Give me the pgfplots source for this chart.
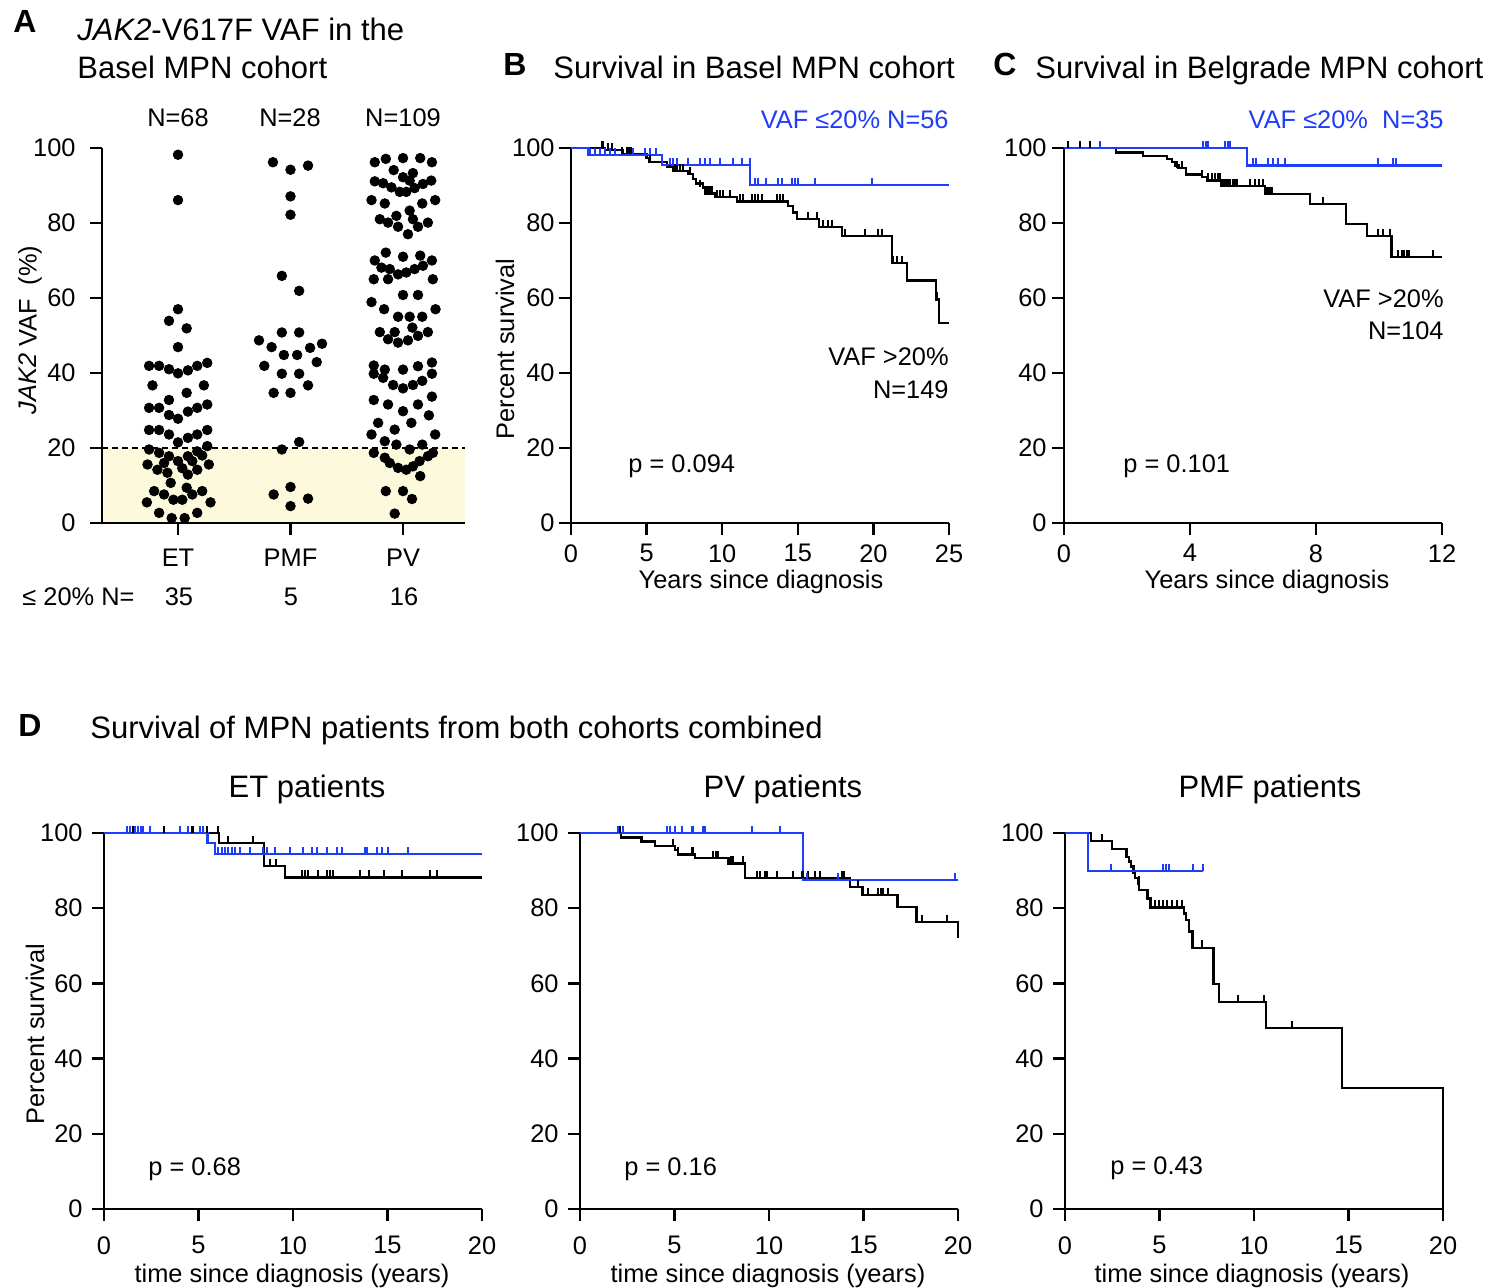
\documentclass[border=0pt]{standalone}
\usepackage{fontspec}
\setmainfont{Liberation Sans}
\usepackage{pgfplots}
\pgfplotsset{compat=1.18}
\definecolor{kmblue}{RGB}{30,60,250}
\definecolor{vafyellow}{RGB}{253,249,221}
\pgfdeclareplotmark{cens}{\pgfpathmoveto{\pgfpointorigin}\pgfpathlineto{\pgfpoint{0pt}{3.6pt}}\pgfusepathqstroke}
\newcommand\lab{\fontsize{12.7}{14}\selectfont}
\newcommand\ttl{\fontsize{15.5}{18}\selectfont}
\pgfplotsset{
  kmaxis/.style={
    scale only axis, width=189pt, height=187.5pt,
    axis lines=left, axis line style={-, line width=1.2pt},
    tick align=outside, major tick length=6pt,
    tick style={black, line width=1.2pt},
    ymin=0, ymax=100, ytick={0,20,...,100},
    clip=false, anchor=south west,
    tick label style={font=\lab},
    /pgf/number format/assume math mode=true,
  },
  blk/.style={const plot, black, line width=1.15pt},
  blu/.style={const plot, kmblue, line width=1.15pt},
  cblk/.style={only marks, mark=cens, black, mark options={line width=1pt}},
  cblu/.style={only marks, mark=cens, kmblue, mark options={line width=1pt}},
}
\begin{document}
\begin{tikzpicture}[x=0.5pt,y=0.5pt, every node/.style={inner sep=0pt}]
\useasboundingbox (0,0) rectangle (1502,1288);

% ---------------- Panel A
\begin{axis}[kmaxis, at={(51pt,382.5pt)}, width=181.5pt, xmin=0.3244, xmax=3.551,
  xtick={1,2,3}, xticklabels={ET,PMF,PV}, axis on top,
  yticklabel style={xshift=-7pt}, xticklabel style={yshift=-7pt}]
\addplot[draw=none, fill=vafyellow] coordinates {(0.3244,20)(3.551,20)} \closedcycle;
\addplot[black, line width=1pt, dash pattern=on 3pt off 2pt] coordinates {(0.3244,20)(3.551,20)};
% ET
\addplot[only marks, mark=*, mark size=2.4pt, black] coordinates {
(1.0,98.2)(1.0,86.1)(1.0,57.0)(0.920,53.9)(1.077,51.9)(1.0,46.9)
(0.743,41.9)(0.832,41.9)(0.920,41.0)(1.0,39.9)(1.088,40.7)(1.171,41.9)(1.260,42.7)
(0.773,36.7)(1.077,34.7)(1.230,36.7)(0.920,32.8)
(0.743,30.7)(0.832,30.7)(0.920,28.8)(1.0,27.8)(1.088,29.7)(1.171,30.7)(1.260,31.6)
(0.743,24.8)(0.832,24.8)(0.920,23.6)(1.0,21.5)(1.088,22.7)(1.171,23.6)(1.260,24.8)
(0.743,19.6)(0.832,18.7)(0.920,17.8)(1.0,16.5)(1.088,17.8)(1.171,19.1)(1.260,20.5)
(0.729,15.6)(0.817,14.2)(0.906,13.4)(1.088,12.9)(1.171,14.2)(1.274,15.6)
(0.876,16.0)(1.038,14.6)(1.127,16.5)(1.215,18.0)
(0.935,10.7)(1.077,9.4)
(0.788,8.5)(0.876,7.6)(0.959,6.2)(1.038,6.2)(1.127,7.6)(1.215,8.5)
(0.723,5.5)(1.289,5.5)
(0.832,2.7)(0.944,1.3)(1.059,1.3)(1.171,2.7)
};
% PMF
\addplot[only marks, mark=*, mark size=2.4pt, black] coordinates {
(1.844,96.2)(2.0,94.2)(2.156,95.3)(2.0,87.1)(2.0,82.2)(1.923,65.9)(2.077,61.9)
(1.923,50.8)(2.077,50.8)
(1.720,48.7)(1.832,46.9)(1.941,44.8)(2.059,44.8)(2.174,46.7)(2.280,47.8)
(1.767,41.9)(2.233,42.9)
(1.923,39.8)(2.077,39.8)(2.156,36.7)
(1.850,34.7)(2.0,34.7)
(2.077,21.6)(1.923,19.6)
(2.0,9.6)(1.850,7.6)(2.156,6.5)(2.0,4.5)
};
% PV
\addplot[only marks, mark=*, mark size=2.4pt, black] coordinates {
(2.749,96.2)(2.847,97.1)(3.0,97.3)(3.153,97.3)(3.257,96.2)
(2.917,94.1)(3.088,93.3)(3.0,92.2)
(2.749,91.1)(2.823,90.6)(2.897,89.5)(2.971,88.3)(3.029,88.3)(3.103,89.3)(3.177,90.4)(3.251,91.3)(3.059,91.3)
(2.720,86.1)(2.838,85.2)(3.171,85.2)(3.286,86.1)
(3.059,83.3)(2.794,81.0)(2.867,80.1)(2.941,81.9)(2.956,79.0)(3.088,81.0)(3.133,79.0)(3.221,80.1)(3.044,77.0)
(2.847,72.1)(3.0,71.0)(3.153,71.3)(2.749,70.0)(3.257,70.0)
(2.808,68.1)(2.882,67.7)(2.956,66.3)(3.029,66.8)(3.103,67.7)(3.177,68.6)
(2.740,65.0)(2.867,65.0)(3.265,65.0)
(3.0,60.8)(3.133,60.8)
(2.720,58.9)(2.832,57.0)(3.289,57.0)
(2.956,55.0)(3.059,55.0)(3.171,55.0)
(2.794,50.9)(2.926,50.9)(3.083,52.1)(3.221,50.9)
(2.867,49.0)(2.956,48.1)(3.044,48.7)(3.133,49.9)
(2.740,42.0)(2.838,40.9)(3.0,40.9)(3.133,41.8)(3.257,42.8)
(2.740,39.8)(2.823,38.7)(2.912,36.8)(3.0,35.9)(3.088,36.8)(3.171,37.9)(3.257,39.8)
(2.740,32.8)(2.867,31.6)(3.133,31.6)(3.257,33.7)(3.0,29.8)
(3.230,28.7)(2.779,26.7)(3.074,26.7)
(2.926,24.9)(2.720,23.6)(3.286,23.6)
(2.838,21.8)(2.941,20.9)(3.059,19.6)(3.171,20.9)
(2.740,18.7)(2.838,17.4)(2.882,16.0)(2.956,14.7)(3.029,14.2)(3.088,15.1)(3.147,16.5)(3.221,17.8)(3.265,18.7)
(3.153,12.5)
(2.847,8.5)(3.0,8.5)(3.080,6.4)
(2.926,2.5)
};
\end{axis}

% ---------------- Panel B
\begin{axis}[kmaxis, at={(285.5pt,382.5pt)}, xmin=0, xmax=25, xtick={0,5,...,25},
  yticklabel style={xshift=-2pt}, xticklabel style={yshift=-4.5pt}]
\addplot[blk] coordinates {(0,100)(2.25,99.5)(3.42,98.4)(5.0,97.3)(5.18,96.2)(6.33,95.0)(6.77,93.9)(7.76,93.0)(8.09,91.7)(8.27,90.5)(8.75,89.5)(8.86,87.9)(9.52,87.0)(10.96,85.7)(14.37,84.6)(14.66,82.8)(14.93,81.0)(16.42,79.0)(17.9,76.6)(21.21,69.4)(22.2,64.7)(24.14,59.6)(24.36,53.4)(25,53.4)};
\addplot[cblk] coordinates {(2.03,100)(2.14,100)(2.47,99.5)(2.69,99.5)(3.35,98.4)(3.68,98.4)(3.86,98.4)(3.97,98.4)(5.22,96.2)(6.55,95.0)(6.88,93.9)(7.03,93.9)(7.21,93.9)(7.43,93.9)(7.87,93.0)(8.53,89.5)(9.0,87.9)(9.08,87.9)(9.19,87.9)(9.3,87.9)(9.63,87.0)(9.85,87.0)(10.07,87.0)(10.52,87.0)(11.18,85.7)(11.4,85.7)(11.95,85.7)(12.17,85.7)(12.39,85.7)(12.61,85.7)(13.6,85.7)(13.82,85.7)(14.04,85.7)(15.7,81.0)(16.25,81.0)(16.69,79.0)(17.02,79.0)(17.24,79.0)(18.12,76.6)(19.44,76.6)(20.33,76.6)(20.55,76.6)(21.32,69.4)(21.54,69.4)(21.87,69.4)(24.18,59.6)};
\addplot[blu] coordinates {(0,100)(1.15,98.1)(6.0,95.5)(11.86,90.2)(25,90.2)};
\addplot[cblu] coordinates {(1.26,98.1)(1.59,98.1)(1.92,98.1)(2.25,98.1)(2.58,98.1)(2.91,98.1)(4.12,98.1)(4.89,98.1)(5.22,98.1)(5.62,98.1)(6.55,95.5)(6.77,95.5)(6.99,95.5)(7.76,95.5)(8.53,95.5)(8.86,95.5)(9.19,95.5)(9.85,95.5)(10.74,95.5)(11.29,95.5)(11.84,95.5)(12.17,90.2)(12.39,90.2)(12.9,90.2)(13.71,90.2)(13.93,90.2)(14.59,90.2)(14.81,90.2)(15.04,90.2)(16.14,90.2)(19.89,90.2)};
\end{axis}

% ---------------- Panel C
\begin{axis}[kmaxis, at={(532pt,382.5pt)}, xmin=0, xmax=12, xtick={0,4,8,12},
  yticklabel style={xshift=-2.5pt}, xticklabel style={yshift=-4.5pt}]
\addplot[blk] coordinates {(0,100)(1.65,98.8)(2.5,97.9)(3.26,97.1)(3.42,96.2)(3.52,95.3)(3.63,94.6)(3.87,92.9)(4.37,92.2)(4.53,91.3)(5.0,89.8)(6.38,87.7)(7.81,85.0)(8.95,79.7)(9.61,76.6)(10.4,71.0)(12,71.0)};
\addplot[cblk] coordinates {(0.14,100)(0.51,100)(0.83,100)(3.6,94.6)(3.74,94.6)(4.37,92.2)(4.58,91.3)(4.69,91.3)(4.79,91.3)(4.9,91.3)(4.95,91.3)(5.08,89.8)(5.15,89.8)(5.2,89.8)(5.27,89.8)(5.35,89.8)(5.42,89.8)(5.5,89.8)(5.9,89.8)(6.06,89.8)(6.2,89.8)(6.33,89.8)(6.43,87.7)(6.49,87.7)(6.54,87.7)(6.59,87.7)(8.23,85.0)(9.98,76.6)(10.14,76.6)(10.35,76.6)(10.61,71.0)(10.72,71.0)(10.79,71.0)(10.88,71.0)(10.96,71.0)(11.72,71.0)};
\addplot[blu] coordinates {(0,100)(5.8,95.3)(12,95.3)};
\addplot[cblu] coordinates {(1.14,100)(4.42,100)(4.5,100)(4.58,100)(5.11,100)(5.2,100)(5.28,100)(6.0,95.3)(6.1,95.3)(6.48,95.3)(6.65,95.3)(6.8,95.3)(7.02,95.3)(9.98,95.3)(10.45,95.3)(10.55,95.3)};
\end{axis}

% ---------------- Panel D1 (ET)
\begin{axis}[kmaxis, at={(52pt,39.5pt)}, height=188pt, xmin=0, xmax=20, xtick={0,5,...,20},
  yticklabel style={xshift=-4.5pt}, xticklabel style={yshift=-7.5pt}]
\addplot[blk] coordinates {(0,100)(6.1,97.3)(8.47,91.2)(9.58,88.2)(20,88.2)};
\addplot[cblk] coordinates {(1.55,100)(2.08,100)(3.2,100)(4.46,100)(4.63,100)(4.73,100)(5.26,100)(5.43,100)(6.05,100)(6.54,97.3)(7.9,97.3)(8.78,91.2)(9.1,91.2)(10.46,88.2)(10.63,88.2)(10.8,88.2)(11.34,88.2)(11.78,88.2)(11.95,88.2)(12.13,88.2)(13.55,88.2)(14.0,88.2)(14.8,88.2)(15.75,88.2)(17.25,88.2)(17.64,88.2)};
\addplot[blu] coordinates {(0,100)(5.47,97.3)(5.87,94.4)(20,94.4)};
\addplot[cblu] coordinates {(1.2,100)(1.38,100)(1.64,100)(1.82,100)(1.94,100)(2.08,100)(2.43,100)(4.02,100)(4.46,100)(5.08,100)(5.26,100)(6.05,94.4)(6.23,94.4)(6.4,94.4)(6.58,94.4)(6.75,94.4)(6.93,94.4)(7.2,94.4)(7.72,94.4)(8.43,94.4)(8.6,94.4)(9.05,94.4)(9.84,94.4)(10.55,94.4)(10.99,94.4)(11.25,94.4)(11.78,94.4)(12.31,94.4)(12.57,94.4)(13.81,94.4)(13.9,94.4)(14.43,94.4)(14.69,94.4)(15.04,94.4)(16.1,94.4)};
\end{axis}

% ---------------- Panel D2 (PV)
\begin{axis}[kmaxis, at={(290pt,39.5pt)}, height=188pt, xmin=0, xmax=20, xtick={0,5,...,20},
  yticklabel style={xshift=-4.5pt}, xticklabel style={yshift=-7.5pt}]
\addplot[blk] coordinates {(0,100)(2.17,98.8)(3.26,97.7)(3.97,96.6)(5.03,95.5)(5.2,94.3)(6.08,93.3)(7.85,91.9)(8.73,88.0)(14.29,85.7)(14.94,83.5)(16.8,80.4)(17.8,76.4)(20,72.0)};
\addplot[cblk] coordinates {(2.1,100)(4.94,96.6)(5.2,94.3)(5.9,94.3)(5.98,94.3)(7.06,93.3)(7.2,93.3)(7.32,93.3)(8.0,91.9)(8.1,91.9)(8.64,91.9)(9.35,88.0)(9.5,88.0)(9.8,88.0)(9.88,88.0)(10.4,88.0)(11.29,88.0)(11.73,88.0)(11.82,88.0)(12.08,88.0)(12.43,88.0)(12.7,88.0)(13.84,88.0)(13.95,88.0)(14.73,85.7)(15.26,83.5)(15.78,83.5)(15.9,83.5)(16.05,83.5)(16.3,83.5)(18.1,76.4)(19.4,76.4)};
\addplot[blu] coordinates {(0,100)(11.8,87.5)(20,87.5)};
\addplot[cblu] coordinates {(2.03,100)(2.29,100)(4.59,100)(4.76,100)(5.03,100)(5.38,100)(5.9,100)(5.98,100)(6.53,100)(6.62,100)(9.08,100)(10.58,100)(12.0,87.5)(13.67,87.5)(19.84,87.5)};
\end{axis}

% ---------------- Panel D3 (PMF)
\begin{axis}[kmaxis, at={(532.5pt,39.5pt)}, height=188pt, xmin=0, xmax=20, xtick={0,5,...,20},
  yticklabel style={xshift=-4.5pt}, xticklabel style={yshift=-7.5pt}]
\addplot[blk] coordinates {(0,100)(1.38,97.9)(2.5,95.8)(3.26,93.7)(3.4,92.4)(3.49,91.1)(3.62,89.3)(3.7,88.0)(3.85,86.6)(3.93,84.9)(4.36,82.6)(4.53,80.2)(6.3,78.6)(6.4,76.9)(6.56,73.8)(6.74,69.5)(7.85,59.9)(8.13,55.0)(10.62,48.2)(14.67,32.1)(20,0)};
\addplot[cblk] coordinates {(1.94,97.9)(3.9,86.6)(4.76,80.2)(4.97,80.2)(5.2,80.2)(5.41,80.2)(5.64,80.2)(5.91,80.2)(6.17,80.2)(7.23,69.5)(9.14,55.0)(10.53,55.0)(12.0,48.2)};
\addplot[blu] coordinates {(0,100)(1.2,89.9)(7.28,89.9)};
\addplot[cblu] coordinates {(2.42,89.9)(5.2,89.9)(5.35,89.9)(5.5,89.9)(6.75,89.9)(7.28,89.9)};
\end{axis}

% ---------------- Texts
\node[anchor=base, font=\bfseries\fontsize{16}{18}\selectfont] at (25,1255) {A};
\node[anchor=base west, font=\ttl] at (77,1247) {\textit{JAK2}-V617F VAF in the};
\node[anchor=base west, font=\ttl] at (77,1209) {Basel MPN cohort};
\node[anchor=base, font=\lab] at (178,1161) {N=68};
\node[anchor=base, font=\lab] at (290,1161) {N=28};
\node[anchor=base, font=\lab] at (403,1161) {N=109};
\node[rotate=90, font=\lab] at (30,958) {\textit{JAK2} VAF\ \ (\%)};
\node[anchor=base west, font=\lab] at (22,682) {≤ 20\% N=};
\node[anchor=base, font=\lab] at (179,682) {35};
\node[anchor=base, font=\lab] at (291,682) {5};
\node[anchor=base, font=\lab] at (404,682) {16};

\node[anchor=base, font=\bfseries\fontsize{16}{18}\selectfont] at (515,1212) {B};
\node[anchor=base west, font=\ttl] at (553,1209) {Survival in Basel MPN cohort};
\node[anchor=base east, font=\lab, text=kmblue] at (949,1159) {VAF ≤20\% N=56};
\node[anchor=base east, font=\lab] at (949,922) {VAF >20\%};
\node[anchor=base east, font=\lab] at (949,889) {N=149};
\node[anchor=base west, font=\lab] at (628,815) {p = 0.094};
\node[anchor=base, font=\lab] at (761,699) {Years since diagnosis};
\node[rotate=90, font=\lab] at (505,939) {Percent survival};

\node[anchor=base, font=\bfseries\fontsize{16}{18}\selectfont] at (1005,1212) {C};
\node[anchor=base west, font=\ttl] at (1035,1209) {Survival in Belgrade MPN cohort};
\node[anchor=base east, font=\lab, text=kmblue] at (1444,1159) {VAF ≤20\%\ \ N=35};
\node[anchor=base east, font=\lab] at (1444,980) {VAF >20\%};
\node[anchor=base east, font=\lab] at (1444,948) {N=104};
\node[anchor=base west, font=\lab] at (1123,815) {p = 0.101};
\node[anchor=base, font=\lab] at (1267,699) {Years since diagnosis};

\node[anchor=base, font=\bfseries\fontsize{16}{18}\selectfont] at (30,551) {D};
\node[anchor=base west, font=\ttl] at (90,549) {Survival of MPN patients from both cohorts combined};
\node[anchor=base, font=\ttl] at (307,490) {ET patients};
\node[anchor=base, font=\ttl] at (783,490) {PV patients};
\node[anchor=base, font=\ttl] at (1270,490) {PMF patients};
\node[rotate=90, font=\lab] at (35,254) {Percent survival};
\node[anchor=base west, font=\lab] at (148,112) {p = 0.68};
\node[anchor=base west, font=\lab] at (624,112) {p = 0.16};
\node[anchor=base west, font=\lab] at (1110,113) {p = 0.43};
\node[anchor=base, font=\lab] at (292,5) {time since diagnosis (years)};
\node[anchor=base, font=\lab] at (768,5) {time since diagnosis (years)};
\node[anchor=base, font=\lab] at (1252,5) {time since diagnosis (years)};
\end{tikzpicture}
\end{document}
